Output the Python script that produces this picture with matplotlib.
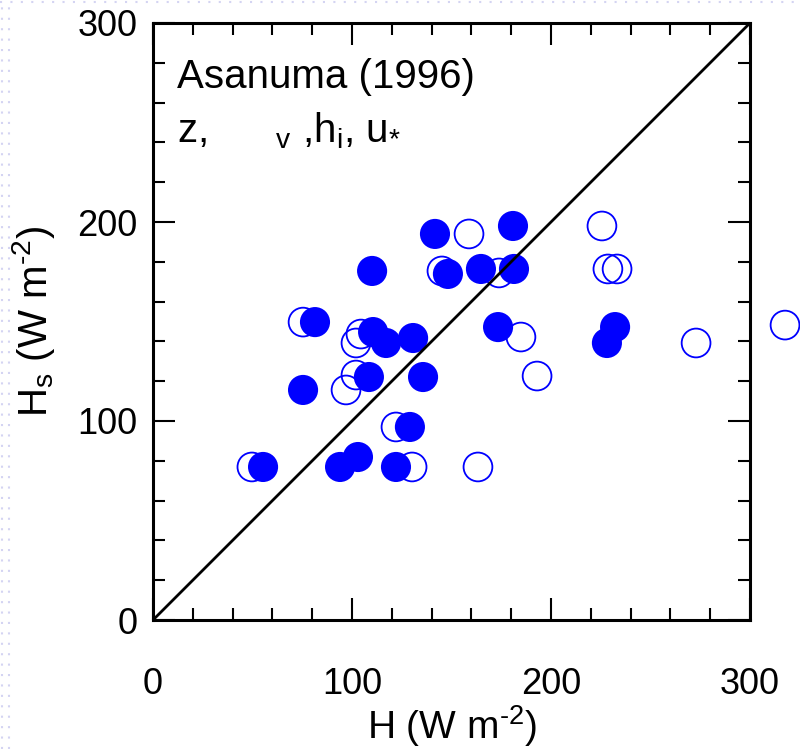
import matplotlib
matplotlib.use("Agg")
import matplotlib.pyplot as plt
from matplotlib.lines import Line2D
from matplotlib.ticker import MultipleLocator

plt.rcParams['font.family'] = ['Liberation Sans', 'DejaVu Sans']
plt.rcParams['mathtext.fontset'] = 'custom'
plt.rcParams['mathtext.rm'] = 'Liberation Sans'
plt.rcParams['mathtext.it'] = 'Liberation Sans'
plt.rcParams['mathtext.default'] = 'regular'

# filled circles: H, Hs (W m-2)
filled_h = [141.7, 180.9, 110.1, 148.2, 164.8, 181.4, 81.4, 110.6, 117.1, 130.7,
            173.4, 75.4, 108.5, 135.7, 232.2, 228.1, 129.1, 55.3, 94.0, 103.0, 122.1]
filled_hs = [194.0, 198.0, 175.4, 173.9, 176.4, 176.4, 149.7, 144.7, 139.2, 141.7,
             147.2, 115.6, 122.1, 122.1, 147.2, 139.2, 97.0, 76.9, 76.9, 81.9, 76.9]

# open circles
open_h = [158.8, 145.2, 173.9, 75.4, 104.5, 102.0, 102.0, 97.0, 225.6, 228.6,
          233.2, 184.9, 193.0, 272.9, 317.6, 122.1, 49.7, 130.2, 163.3]
open_hs = [194.0, 175.4, 174.4, 149.7, 143.7, 139.2, 123.1, 115.6, 198.0, 176.4,
           176.4, 142.2, 122.6, 139.2, 148.2, 97.0, 76.9, 76.9, 76.9]

fig = plt.figure(figsize=(8, 7.49), dpi=100)
ax = fig.add_axes([153 / 800, 1 - 620 / 749, 597 / 800, 597 / 749])

# faint dotted background border
fig.add_artist(Line2D([0, 1], [1 - 2 / 749] * 2, transform=fig.transFigure,
                      color='#d4d4f2', lw=1.5, ls=(0, (1, 4))))
for xp in [2, 9]:
    fig.add_artist(Line2D([xp / 800] * 2, [0, 1], transform=fig.transFigure,
                          color='#d4d4f2', lw=1.5, ls=(0, (1, 4))))

ax.scatter(open_h, open_hs, s=430, facecolors='none', edgecolors='#0000ff',
           linewidths=1.3, clip_on=False, zorder=2)
ax.scatter(filled_h, filled_hs, s=470, color='#0000ff', edgecolors='none',
           clip_on=False, zorder=3)

ax.plot([0, 300], [0, 300], color='black', lw=2, zorder=4)

ax.set_xlim(0, 300)
ax.set_ylim(0, 300)
ax.xaxis.set_major_locator(MultipleLocator(100))
ax.yaxis.set_major_locator(MultipleLocator(100))
ax.xaxis.set_minor_locator(MultipleLocator(20))
ax.yaxis.set_minor_locator(MultipleLocator(20))

for sp in ax.spines.values():
    sp.set_linewidth(2.2)

ax.tick_params(which='both', direction='in', top=True, right=True, width=1.5)
ax.tick_params(which='major', length=16)
ax.tick_params(which='minor', length=8.5)
ax.tick_params(axis='x', labelsize=26, pad=34)
ax.tick_params(axis='y', labelsize=26, pad=11)

ax.set_xlabel(r'H (W m$^{\text{-}2}$)', fontsize=28)
ax.set_ylabel(r'H$_s$ (W m$^{\text{-}2}$)', fontsize=29)
ax.xaxis.set_label_coords(0.5, -0.14)
ax.yaxis.set_label_coords(-0.16, 0.5)

ax.text(0.04, 0.891, 'Asanuma (1996)', transform=ax.transAxes, fontsize=29,
        va='baseline')
ax.text(0.04, 0.80, r'z,      $_{v}$ ,h$_{i}$, u$_{*}$', transform=ax.transAxes,
        fontsize=29, va='baseline')

fig.savefig('out.png', dpi=100)
